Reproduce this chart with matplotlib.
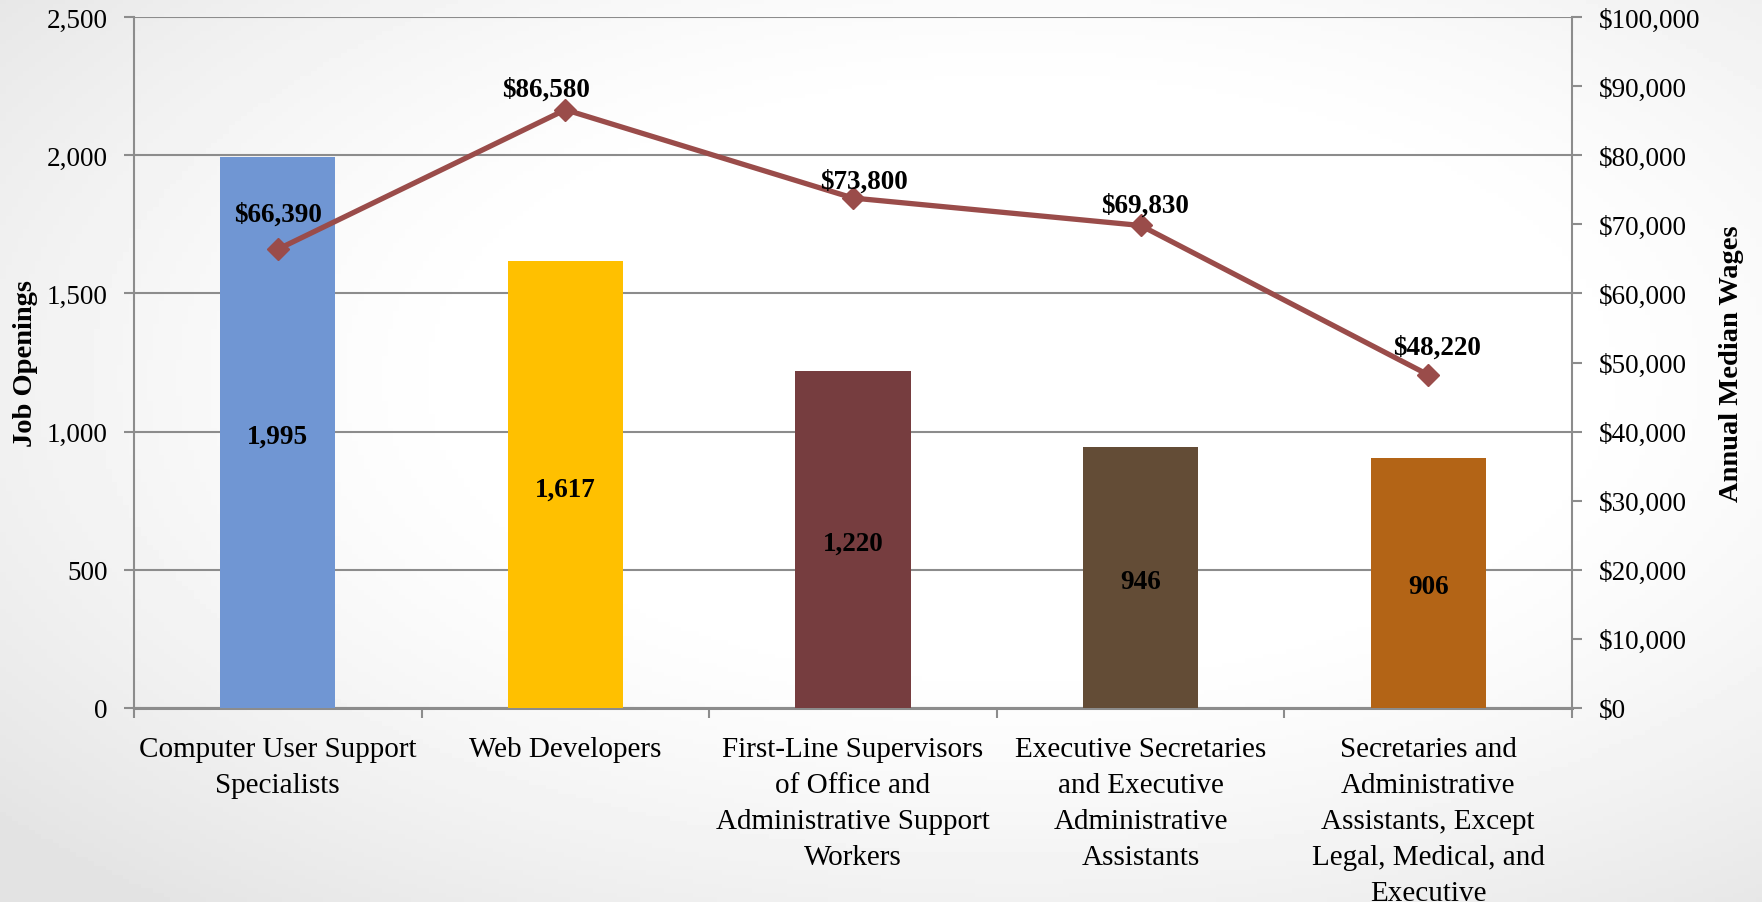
import numpy as np
import matplotlib
matplotlib.use("Agg")
import matplotlib.pyplot as plt
from matplotlib.ticker import FuncFormatter, MultipleLocator

categories = [
    "Computer User Support\nSpecialists",
    "Web Developers",
    "First-Line Supervisors\nof Office and\nAdministrative Support\nWorkers",
    "Executive Secretaries\nand Executive\nAdministrative\nAssistants",
    "Secretaries and\nAdministrative\nAssistants, Except\nLegal, Medical, and\nExecutive",
]
job_openings = [1995, 1617, 1220, 946, 906]
median_wages = [66390, 86580, 73800, 69830, 48220]
bar_colors = ["#7096D3", "#FFC000", "#763D3F", "#634C36", "#B36416"]
line_color = "#9A4C4A"

plt.rcParams["font.family"] = ["Liberation Serif", "DejaVu Serif"]

W, H = 1762, 903
fig = plt.figure(figsize=(W / 100, H / 100), dpi=100)

# background gradient
bg = fig.add_axes([0, 0, 1, 1], zorder=-10)
yy, xx = np.mgrid[0:1:200j, 0:1:300j]
r = np.sqrt(((xx - 0.58) / 0.55) ** 2 + ((yy - 0.42) / 0.55) ** 2)
val = 1.0 - 0.11 * np.clip((r - 0.55) / 0.85, 0, 1) ** 1.3
bg.imshow(val, cmap="gray", vmin=0, vmax=1, aspect="auto", extent=[0, 1, 0, 1], origin="upper")
bg.axis("off")

left, right = 134 / W, 1572 / W
bottom, top = 1 - 709 / H, 1 - 18 / H
ax = fig.add_axes([left, bottom, right - left, top - bottom])
ax.patch.set_alpha(0)

x = np.arange(len(categories))
ax.bar(x, job_openings, width=0.4, color=bar_colors, zorder=3)
ax.set_xlim(-0.5, len(categories) - 0.5)
ax.set_ylim(0, 2500)
ax.yaxis.set_major_locator(MultipleLocator(500))
ax.yaxis.set_major_formatter(FuncFormatter(lambda v, p: f"{int(v):,}"))
ax.grid(axis="y", color="#8C8C8C", linewidth=1.5, zorder=0)
ax.set_axisbelow(True)

grey = "#8C8C8C"
for s in ["top", "right"]:
    ax.spines[s].set_visible(False)
ax.spines["left"].set_color(grey)
ax.spines["bottom"].set_color(grey)
ax.spines["left"].set_linewidth(1.5)
ax.spines["bottom"].set_linewidth(2.2)

ax.set_xticks(x)
ax.set_xticklabels(categories, fontsize=21, linespacing=1.5)
ax.set_xticks(np.arange(len(categories) + 1) - 0.5, minor=True)
ax.tick_params(axis="x", which="major", length=0, pad=20.5)
ax.tick_params(axis="x", which="minor", length=7, width=1.5, color=grey)
ax.tick_params(axis="y", length=7, width=1.5, color=grey, labelsize=19.5, pad=12)
ax.set_ylabel("Job Openings", fontsize=20.5, fontweight="bold", labelpad=6)

for xi, v in zip(x, job_openings):
    ax.annotate(f"{v:,}", (xi, v / 2), xytext=(0, -3), textcoords="offset points",
                ha="center", va="center", fontsize=19.5,
                fontweight="bold", color="black", zorder=5)

ax2 = ax.twinx()
ax2.set_ylim(0, 100000)
ax2.yaxis.set_major_locator(MultipleLocator(10000))
ax2.yaxis.set_major_formatter(FuncFormatter(lambda v, p: f"${int(v):,}"))
for s in ["top", "left", "bottom"]:
    ax2.spines[s].set_visible(False)
ax2.spines["right"].set_color(grey)
ax2.spines["right"].set_linewidth(1.5)
ax2.tick_params(axis="y", length=7, width=1.5, color=grey, labelsize=19.5, pad=12)
ax2.set_ylabel("Annual Median Wages", fontsize=20.5, fontweight="bold", labelpad=14)

ax2.plot(x, median_wages, color=line_color, linewidth=3.8, marker="D",
         markersize=11, zorder=6)
label_dx = [0, -14, 8, 3, 6]
label_dy = [16, 5.5, 3, 5.5, 11]
for xi, v, dx, dy in zip(x, median_wages, label_dx, label_dy):
    ax2.annotate(f"${v:,}", (xi, v), xytext=(dx, dy), textcoords="offset points",
                 ha="center", va="bottom", fontsize=19.5, fontweight="bold", zorder=7)

fig.savefig("out.png", dpi=100)
